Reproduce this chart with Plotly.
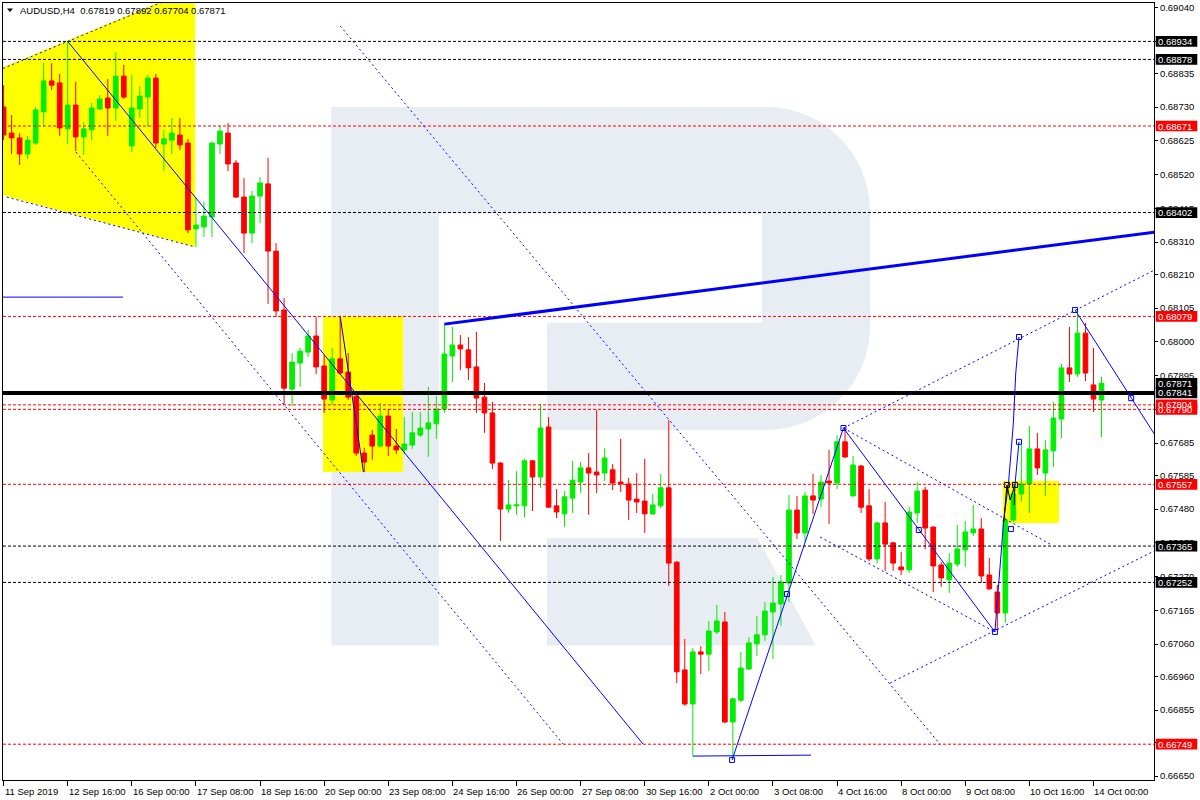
import plotly.graph_objects as go

# ---------------- data ----------------
trading_days = ["2019-09-11", "2019-09-12", "2019-09-13", "2019-09-16", "2019-09-17", "2019-09-18",
                "2019-09-19", "2019-09-20", "2019-09-23", "2019-09-24", "2019-09-25", "2019-09-26",
                "2019-09-27", "2019-09-30", "2019-10-01", "2019-10-02", "2019-10-03", "2019-10-04",
                "2019-10-07", "2019-10-08", "2019-10-09", "2019-10-10", "2019-10-11", "2019-10-14"]
session_hours = ["00:00", "04:00", "08:00", "12:00", "16:00", "20:00"]
first_bar = "2019-09-11 08:00"
last_bar = "2019-10-14 04:00"

open_ = [0.68730, 0.68649, 0.68634, 0.68584, 0.68618, 0.68715, 0.68811, 0.68805, 0.68662, 0.68736,
         0.68637, 0.68659, 0.68724, 0.68758, 0.68727, 0.68826, 0.68609, 0.68724, 0.68761, 0.68820,
         0.68615, 0.68627, 0.68643, 0.68618, 0.68351, 0.68357, 0.68388, 0.68615, 0.68649, 0.68556,
         0.68450, 0.68338, 0.68453, 0.68491, 0.68282, 0.68099, 0.67853, 0.67934, 0.67968, 0.68018,
         0.67925, 0.67819, 0.67947, 0.67906, 0.67831, 0.67654, 0.67710, 0.67676, 0.67769, 0.67676,
         0.67664, 0.67679, 0.67710, 0.67729, 0.67745, 0.67791, 0.67956, 0.67990, 0.67975, 0.67922,
         0.67828, 0.67779, 0.67623, 0.67480, 0.67490, 0.67490, 0.67630, 0.67580, 0.67735, 0.67490,
         0.67465, 0.67514, 0.67564, 0.67608, 0.67595, 0.67592, 0.67602, 0.67564, 0.67558, 0.67511,
         0.67505, 0.67465, 0.67490, 0.67546, 0.67315, 0.66980, 0.66874, 0.67036, 0.67029, 0.67098,
         0.67129, 0.66818, 0.66886, 0.66983, 0.67061, 0.67089, 0.67160, 0.67185, 0.67250, 0.67477,
         0.67406, 0.67521, 0.67511, 0.67567, 0.67561, 0.67689, 0.67521, 0.67614, 0.67490, 0.67325,
         0.67437, 0.67375, 0.67300, 0.67291, 0.67468, 0.67539, 0.67424, 0.67306, 0.67260, 0.67309,
         0.67353, 0.67406, 0.67418, 0.67275, 0.67222, 0.67157, 0.67446, 0.67527, 0.67558, 0.67667,
         0.67592, 0.67661, 0.67760, 0.67919, 0.67900, 0.68027, 0.67866, 0.67819]
high = [0.68798, 0.68705, 0.68649, 0.68640, 0.68730, 0.68867, 0.68867, 0.68833, 0.68934, 0.68808,
        0.68683, 0.68743, 0.68767, 0.68817, 0.68901, 0.68861, 0.68830, 0.68795, 0.68830, 0.68833,
        0.68659, 0.68696, 0.68696, 0.68631, 0.68447, 0.68435, 0.68621, 0.68671, 0.68680, 0.68565,
        0.68509, 0.68469, 0.68512, 0.68572, 0.68307, 0.68136, 0.67965, 0.67981, 0.68037, 0.68077,
        0.67959, 0.67981, 0.68079, 0.67965, 0.67841, 0.67670, 0.67726, 0.67810, 0.67791, 0.67729,
        0.67766, 0.67782, 0.67782, 0.67860, 0.67831, 0.68055, 0.68046, 0.68021, 0.68015, 0.68031,
        0.67872, 0.67813, 0.67626, 0.67570, 0.67598, 0.67636, 0.67633, 0.67807, 0.67766, 0.67542,
        0.67536, 0.67630, 0.67626, 0.67654, 0.67788, 0.67670, 0.67620, 0.67698, 0.67577, 0.67592,
        0.67636, 0.67527, 0.67589, 0.67757, 0.67318, 0.67076, 0.67048, 0.67054, 0.67132, 0.67182,
        0.67160, 0.66893, 0.67036, 0.67082, 0.67148, 0.67191, 0.67269, 0.67275, 0.67524, 0.67521,
        0.67533, 0.67589, 0.67586, 0.67664, 0.67710, 0.67732, 0.67645, 0.67617, 0.67542, 0.67440,
        0.67502, 0.67378, 0.67347, 0.67486, 0.67564, 0.67549, 0.67427, 0.67315, 0.67343, 0.67431,
        0.67443, 0.67493, 0.67452, 0.67328, 0.67244, 0.67452, 0.67558, 0.67689, 0.67738, 0.67717,
        0.67695, 0.67813, 0.67931, 0.68046, 0.68099, 0.68059, 0.67981, 0.67892]
low = [0.68627, 0.68584, 0.68550, 0.68568, 0.68612, 0.68668, 0.68783, 0.68640, 0.68615, 0.68593,
       0.68581, 0.68627, 0.68721, 0.68640, 0.68687, 0.68755, 0.68590, 0.68696, 0.68668, 0.68603,
       0.68531, 0.68584, 0.68596, 0.68338, 0.68295, 0.68326, 0.68326, 0.68584, 0.68531, 0.68447,
       0.68276, 0.68307, 0.68369, 0.68118, 0.68077, 0.67804, 0.67800, 0.67860, 0.67953, 0.67900,
       0.67779, 0.67804, 0.67897, 0.67819, 0.67645, 0.67595, 0.67633, 0.67673, 0.67645, 0.67651,
       0.67651, 0.67667, 0.67704, 0.67642, 0.67698, 0.67779, 0.67875, 0.67912, 0.67881, 0.67779,
       0.67717, 0.67605, 0.67381, 0.67468, 0.67462, 0.67455, 0.67474, 0.67546, 0.67483, 0.67452,
       0.67424, 0.67468, 0.67530, 0.67462, 0.67530, 0.67567, 0.67539, 0.67533, 0.67446, 0.67468,
       0.67406, 0.67462, 0.67483, 0.67241, 0.66939, 0.66868, 0.66712, 0.66967, 0.66977, 0.67092,
       0.66815, 0.66700, 0.66880, 0.66980, 0.67023, 0.67070, 0.67014, 0.67117, 0.67191, 0.67387,
       0.67378, 0.67465, 0.67486, 0.67434, 0.67542, 0.67639, 0.67518, 0.67468, 0.67318, 0.67312,
       0.67288, 0.67288, 0.67275, 0.67281, 0.67437, 0.67356, 0.67222, 0.67238, 0.67219, 0.67300,
       0.67300, 0.67396, 0.67250, 0.67228, 0.67100, 0.67126, 0.67440, 0.67502, 0.67468, 0.67586,
       0.67521, 0.67611, 0.67701, 0.67875, 0.67891, 0.67878, 0.67782, 0.67704]
close = [0.68643, 0.68634, 0.68584, 0.68627, 0.68721, 0.68811, 0.68798, 0.68665, 0.68736, 0.68637,
         0.68662, 0.68727, 0.68755, 0.68727, 0.68826, 0.68761, 0.68727, 0.68764, 0.68820, 0.68618,
         0.68631, 0.68649, 0.68612, 0.68348, 0.68363, 0.68391, 0.68618, 0.68655, 0.68553, 0.68450,
         0.68338, 0.68453, 0.68494, 0.68282, 0.68096, 0.67856, 0.67937, 0.67971, 0.68018, 0.67922,
         0.67822, 0.67947, 0.67903, 0.67828, 0.67654, 0.67626, 0.67676, 0.67769, 0.67676, 0.67664,
         0.67682, 0.67717, 0.67732, 0.67748, 0.67791, 0.67962, 0.67990, 0.67978, 0.67919, 0.67825,
         0.67779, 0.67623, 0.67480, 0.67493, 0.67493, 0.67630, 0.67580, 0.67732, 0.67486, 0.67471,
         0.67518, 0.67570, 0.67608, 0.67592, 0.67586, 0.67639, 0.67561, 0.67558, 0.67508, 0.67502,
         0.67465, 0.67493, 0.67546, 0.67312, 0.66974, 0.66874, 0.67036, 0.67029, 0.67101, 0.67132,
         0.66818, 0.66890, 0.66986, 0.67064, 0.67089, 0.67163, 0.67188, 0.67253, 0.67477, 0.67406,
         0.67521, 0.67508, 0.67564, 0.67561, 0.67689, 0.67642, 0.67617, 0.67486, 0.67325, 0.67437,
         0.67371, 0.67312, 0.67291, 0.67471, 0.67536, 0.67421, 0.67303, 0.67266, 0.67312, 0.67356,
         0.67409, 0.67418, 0.67272, 0.67232, 0.67157, 0.67446, 0.67527, 0.67558, 0.67667, 0.67608,
         0.67664, 0.67763, 0.67919, 0.67900, 0.68027, 0.67903, 0.67822, 0.67871]

tick_times = ["2019-09-11 08:00", "2019-09-12 16:00", "2019-09-16 00:00", "2019-09-17 08:00",
              "2019-09-18 16:00", "2019-09-20 00:00", "2019-09-23 08:00", "2019-09-24 16:00",
              "2019-09-26 00:00", "2019-09-27 08:00", "2019-09-30 16:00", "2019-10-02 00:00",
              "2019-10-03 08:00", "2019-10-04 16:00", "2019-10-08 00:00", "2019-10-09 08:00",
              "2019-10-10 16:00", "2019-10-14 00:00"]
tick_labels = ["11 Sep 2019", "12 Sep 16:00", "16 Sep 00:00", "17 Sep 08:00", "18 Sep 16:00",
               "20 Sep 00:00", "23 Sep 08:00", "24 Sep 16:00", "26 Sep 00:00", "27 Sep 08:00",
               "30 Sep 16:00", "2 Oct 00:00", "3 Oct 08:00", "4 Oct 16:00", "8 Oct 00:00",
               "9 Oct 08:00", "10 Oct 16:00", "14 Oct 00:00"]

price_ticks = [0.69040, 0.68935, 0.68835, 0.68730, 0.68625, 0.68520, 0.68415, 0.68310, 0.68210,
               0.68105, 0.68000, 0.67895, 0.67790, 0.67685, 0.67585, 0.67480, 0.67375, 0.67270,
               0.67165, 0.67060, 0.66960, 0.66855, 0.66755, 0.66650]

# horizontal level lines (price, colour)
level_prices = [0.68934, 0.68878, 0.68671, 0.68402, 0.68079, 0.67804, 0.67790, 0.67557,
                0.67365, 0.67252, 0.66749]
level_colors = ["black", "black", "red", "black", "red", "red", "red", "red",
                "black", "black", "red"]
main_level = 0.67841
bid_price = close[-1]

# price-axis label boxes (drawn in this order)
box_prices = [0.68934, 0.68878, 0.68671, 0.68402, 0.68079, 0.67871, 0.67841, 0.67790,
              0.67804, 0.67557, 0.67365, 0.67252, 0.66749]
box_colors = ["black", "black", "red", "black", "red", "black", "black", "red",
              "red", "red", "black", "black", "red"]

# drawing objects anchored on (bar position, price)
wedge_x = [-0.075, 23.9, 23.9, -0.075]
wedge_y = [0.68854, 0.69102, 0.68295, 0.68456]
zone1_x = [39.86, 49.84]
zone1_y = [0.67595, 0.68079]
zone2_x = [124.7, 131.7]
zone2_y = [0.67437, 0.67567]

dotted_blue_x = [[-0.075, 23.9], [0.4, 23.9], [9.03, 69.8], [42.0, 116.85],
                 [104.8, 130.8], [101.9, 123.7], [110.6, 143.6], [104.8, 143.6]]
dotted_blue_y = [[0.68850, 0.69099], [0.68450, 0.68295], [0.68590, 0.66750], [0.68982, 0.66749],
                 [0.67732, 0.67368], [0.67393, 0.67098], [0.66939, 0.67350], [0.67732, 0.68223]]

solid_blue_x = [[8.0, 79.8], [-0.075, 14.9], [42.0, 44.9], [86.0, 100.75],
                [90.9, 104.8], [104.8, 123.7], [133.7, 143.6], [126.2, 126.7],
                [123.7, 124.8, 125.4, 126.0, 126.3, 126.7]]
solid_blue_y = [[0.68934, 0.66749], [0.68139, 0.68139], [0.68079, 0.67595], [0.66712, 0.66715],
                [0.66700, 0.67732], [0.67732, 0.67098], [0.68099, 0.67713], [0.67555, 0.67689],
                [0.67098, 0.67446, 0.67561, 0.67748, 0.67903, 0.68015]]
thick_blue_x = [55.0, 143.6]
thick_blue_y = [0.68055, 0.68341]

zigzag_x = [124.8, 125.2, 125.6, 126.2, 126.1]
zigzag_y = [0.67440, 0.67555, 0.67508, 0.67555, 0.67492]

marker_blue_x = [90.9, 97.75, 104.8, 114.2, 123.7, 125.7, 126.7, 126.7, 133.7, 140.7]
marker_blue_y = [0.66700, 0.67216, 0.67732, 0.67415, 0.67098, 0.67418, 0.67689, 0.68015,
                 0.68099, 0.67825]
marker_black_x = [125.2, 126.2]
marker_black_y = [0.67555, 0.67555]

# ---------------- build ----------------
all_times = [f"{d} {h}" for d in trading_days for h in session_hours]
bar_times = all_times[all_times.index(first_bar): all_times.index(last_bar) + 1]
bar_pos = list(range(len(bar_times)))
tick_pos = [bar_times.index(t) for t in tick_times]

GREEN = "#00ee00"
RED = "#ff0000"
BLUE = "#0000ff"
FONT = "Liberation Sans, Arial, sans-serif"

fig = go.Figure()
fig.add_trace(go.Candlestick(
    x=bar_pos, open=open_, high=high, low=low, close=close,
    increasing=dict(line=dict(color=GREEN, width=1), fillcolor=GREEN),
    decreasing=dict(line=dict(color=RED, width=1), fillcolor=RED),
    whiskerwidth=0, hoverinfo="skip", showlegend=False))
fig.add_trace(go.Scatter(x=marker_blue_x, y=marker_blue_y, mode="markers",
                         marker=dict(symbol="square-open", size=5, color=BLUE, line=dict(width=1)),
                         hoverinfo="skip", showlegend=False))
fig.add_trace(go.Scatter(x=marker_black_x, y=marker_black_y, mode="markers",
                         marker=dict(symbol="square-open", size=5, color="black", line=dict(width=1)),
                         hoverinfo="skip", showlegend=False))

shapes = []


def path_of(xs, ys, close_it=False):
    s = "M " + " L ".join(f"{x},{y}" for x, y in zip(xs, ys))
    return s + (" Z" if close_it else "")


# background objects
shapes.append(dict(type="path", xref="x", yref="y", path=path_of(wedge_x, wedge_y, True),
                   fillcolor="#ffff00", line=dict(width=0), layer="below"))
shapes.append(dict(type="rect", xref="x", yref="y", x0=zone1_x[0], x1=zone1_x[1],
                   y0=zone1_y[0], y1=zone1_y[1], fillcolor="#ffff00", line=dict(width=0), layer="below"))
shapes.append(dict(type="rect", xref="x", yref="y", x0=zone2_x[0], x1=zone2_x[1],
                   y0=zone2_y[0], y1=zone2_y[1], fillcolor="#ffff00", line=dict(width=0), layer="below"))
for p in price_ticks:
    shapes.append(dict(type="line", xref="paper", yref="y", x0=0, x1=1, y0=p, y1=p,
                       line=dict(color="white", width=1, dash="3px,2px"), layer="below"))
shapes.append(dict(type="line", xref="paper", yref="y", x0=0, x1=1, y0=bid_price, y1=bid_price,
                   line=dict(color="white", width=1), layer="below"))

# watermark "R"
wm = "rgba(70,104,160,0.125)"
shapes.append(dict(type="path", xref="paper", yref="paper", layer="below", fillcolor=wm, line=dict(width=0),
                   path=("M 0.28532,0.17297 L 0.28532,0.86615 L 0.66290,0.86615 "
                         "C 0.71277,0.86615 0.75326,0.80618 0.75326,0.73230 L 0.75326,0.58430 "
                         "C 0.75326,0.51042 0.71277,0.45045 0.66290,0.45045 L 0.47263,0.45045 "
                         "L 0.47263,0.58855 L 0.65943,0.58855 L 0.65943,0.72896 L 0.37880,0.72896 "
                         "L 0.37880,0.17297 Z")))
shapes.append(dict(type="path", xref="paper", yref="paper", layer="below", fillcolor=wm, line=dict(width=0),
                   path="M 0.47263,0.31145 L 0.65552,0.31145 L 0.70608,0.17297 L 0.47263,0.17297 Z"))

# level lines
for p, c in zip(level_prices, level_colors):
    shapes.append(dict(type="line", xref="paper", yref="y", x0=0, x1=1, y0=p, y1=p,
                       line=dict(color=c, width=1, dash="3px,2px"), layer="above"))
shapes.append(dict(type="line", xref="paper", yref="y", x0=0, x1=1, y0=main_level, y1=main_level,
                   line=dict(color="black", width=4), layer="above"))

for xs, ys in zip(dotted_blue_x, dotted_blue_y):
    shapes.append(dict(type="path", xref="x", yref="y", path=path_of(xs, ys),
                       line=dict(color=BLUE, width=1, dash="2px,3px"), layer="above"))
for xs, ys in zip(solid_blue_x, solid_blue_y):
    shapes.append(dict(type="path", xref="x", yref="y", path=path_of(xs, ys),
                       line=dict(color=BLUE, width=1), layer="above"))
shapes.append(dict(type="path", xref="x", yref="y", path=path_of(thick_blue_x, thick_blue_y),
                   line=dict(color=BLUE, width=3), layer="above"))
shapes.append(dict(type="path", xref="x", yref="y", path=path_of(zigzag_x, zigzag_y),
                   line=dict(color="black", width=1), layer="above"))

# price label boxes
annotations = []
half = 0.000167
for p, c in zip(box_prices, box_colors):
    shapes.append(dict(type="rect", xref="paper", yref="y", x0=1.0015, x1=1.0376,
                       y0=p - half, y1=p + half, fillcolor=c, line=dict(width=0), layer="above"))
    annotations.append(dict(xref="paper", yref="y", x=1.0030, y=p, xanchor="left", yanchor="middle",
                            text=f"{p:.5f}", showarrow=False, borderpad=0,
                            font=dict(family=FONT, size=9.5, color="white")))

# header
shapes.append(dict(type="path", xref="paper", yref="paper", layer="above", fillcolor="black",
                   line=dict(width=0), path="M 0.00348,0.99292 L 0.00869,0.99292 L 0.00608,0.98842 Z"))
header = ("AUDUSD,H4\u00a0\u00a0" + " ".join(f"{v:.5f}" for v in
                                             (open_[-1], high[-1], low[-1], close[-1])))
annotations.append(dict(xref="paper", yref="paper", x=0.0135, y=0.9901, xanchor="left", yanchor="middle",
                        text=header, showarrow=False, borderpad=0,
                        font=dict(family=FONT, size=9.5, color="black")))

# time labels (left aligned at tick)
for tp, tl in zip(tick_pos, tick_labels):
    annotations.append(dict(xref="x", yref="paper", x=tp, y=-0.0145, xanchor="left", yanchor="middle",
                            text=tl, showarrow=False, borderpad=0,
                            font=dict(family=FONT, size=9.5, color="black")))

fig.update_layout(
    width=1200, height=800,
    margin=dict(l=3, r=46, t=3, b=20, pad=0, autoexpand=False),
    paper_bgcolor="white", plot_bgcolor="white",
    showlegend=False,
    boxgap=0.42, boxgroupgap=0,
    shapes=shapes, annotations=annotations,
    xaxis=dict(range=[-0.075, 143.55], tickvals=tick_pos, showticklabels=False,
               ticks="outside", ticklen=5, tickcolor="black", tickwidth=1,
               showgrid=False, zeroline=False, showline=True, linecolor="black", linewidth=1,
               mirror=True, rangeslider=dict(visible=False), fixedrange=True),
    yaxis=dict(side="right", range=[0.666377, 0.690534], tickvals=price_ticks,
               ticktext=[f"{v:.5f}" for v in price_ticks],
               ticks="outside", ticklen=3, tickcolor="black", tickwidth=1,
               tickfont=dict(family=FONT, size=9.5, color="black"),
               showgrid=False, zeroline=False, showline=True, linecolor="black", linewidth=1,
               mirror=True, fixedrange=True),
)

fig.write_html("out.html", config={"displayModeBar": False},
               post_script="document.body.style.margin='0px';document.body.style.overflow='hidden';")
